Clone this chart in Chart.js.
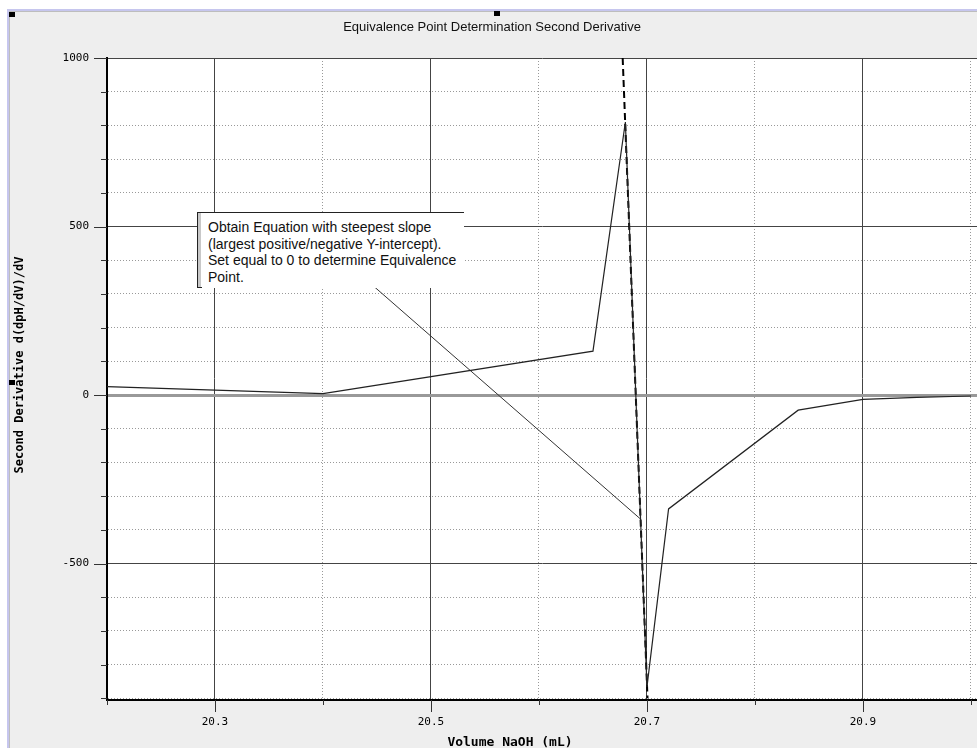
<!DOCTYPE html>
<html>
<head>
<meta charset="utf-8">
<script src="https://cdn.jsdelivr.net/npm/chart.js@4.4.0/dist/chart.umd.min.js"></script>
<style>
  body { margin: 0; background: #fff; }
  #wrap { position: relative; width: 977px; height: 748px; overflow: hidden; }
  #frame {
    position: absolute; left: 7px; top: 9px; right: 0; bottom: 0;
    background: #eeeeee;
    border-left: 2px solid #c6c6ee; border-top: 2px solid #c6c6ee;
    box-shadow: inset 1px 1px 0 #bdbdbd;
  }
  canvas { position: absolute; left: 0; top: 0; }
  .handle { position: absolute; width: 6px; height: 5px; background: #000; }
  #title {
    position: absolute; left: 292px; top: 19px; width: 400px; text-align: center;
    font: 13px "Liberation Sans", Arial, sans-serif; color: #111;
  }
  #xtitle {
    position: absolute; left: 410px; top: 734px; width: 200px; text-align: center;
    font: bold 13px "DejaVu Sans Mono", monospace; color: #000;
  }
  #ytitle {
    position: absolute; left: -130px; top: 357px; width: 300px; height: 16px;
    line-height: 16px; text-align: center; transform: rotate(-90deg);
    font: bold 12px "DejaVu Sans Mono", monospace; color: #000;
  }
  #note {
    position: absolute; left: 197px; top: 212px; width: 256px; height: 69px;
    padding: 6px 0 0 10px; background: #fff;
    border-top: 1px solid #222; border-left: 1px solid #222;
    box-shadow: inset 3px 0 0 #c8c8c8;
    font: 14px/16.7px "Liberation Sans", Arial, sans-serif; color: #111;
  }
  #note::after {
    content: ""; position: absolute; left: -1px; bottom: 0; width: 5px; height: 1px; background: #222;
  }
</style>
</head>
<body>
<div id="wrap">
  <div id="frame"></div>
  <canvas id="chart" width="977" height="748"></canvas>
  <div id="title">Equivalence Point Determination Second Derivative</div>
  <div id="xtitle">Volume NaOH (mL)</div>
  <div id="ytitle">Second Derivative d(dpH/dV)/dV</div>
  <div id="note">Obtain Equation with steepest slope<br>(largest positive/negative Y-intercept).<br>Set equal to 0 to determine Equivalence<br>Point.</div>
  <div class="handle" style="left:9px;top:12px"></div>
  <div class="handle" style="left:494px;top:11px"></div>
  <div class="handle" style="left:9px;top:380px"></div>
</div>
<script>
// second derivative data
const volume = [20.2, 20.4, 20.65, 20.68, 20.7, 20.72, 20.84, 20.9, 20.95, 21.0];
const secondDeriv = [25, 4, 130, 810, -866, -338, -45, -13, -7, -3];

// steepest-slope line (dashed)
const fitVolume = [20.6775, 20.7005];
const fitValue = [1000, -900];

// callout pointer from the note to the curve
const calloutVolume = [20.40, 20.694];
const calloutValue = [454, -368];

// tick positions and the labels shown on them
const xTicks = [20.2, 20.3, 20.4, 20.5, 20.6, 20.7, 20.8, 20.9, 21.0];
const xTickLabels = ['20.3', '20.5', '20.7', '20.9'];
const yTicks = [-900, -800, -700, -600, -500, -400, -300, -200, -100, 0,
                100, 200, 300, 400, 500, 600, 700, 800, 900, 1000];
const yTickLabels = ['1000', '500', '0', '-500'];

const pts = (xs, ys) => xs.map((x, i) => ({ x: x, y: ys[i] }));
const xMajor = v => xTickLabels.includes(v.toFixed(1));
const yMajor = v => yTickLabels.includes(String(v));

const plotBg = {
    id: 'plotBg',
    beforeDraw(chart) {
        const a = chart.chartArea;
        chart.ctx.save();
        chart.ctx.fillStyle = '#fff';
        chart.ctx.fillRect(a.left, a.top, a.right - a.left, a.bottom - a.top);
        chart.ctx.restore();
    }
};

// long ticks on major values, short on minor
const tickMarks = {
    id: 'tickMarks',
    afterDraw(chart) {
        const { ctx, chartArea, scales } = chart;
        ctx.save();
        ctx.strokeStyle = '#333';
        ctx.lineWidth = 1;
        scales.y.ticks.forEach(t => {
            const y = Math.round(scales.y.getPixelForValue(t.value)) + 0.5;
            const len = yMajor(t.value) ? 13 : 6;
            ctx.beginPath();
            ctx.moveTo(chartArea.left - len, y);
            ctx.lineTo(chartArea.left, y);
            ctx.stroke();
        });
        scales.x.ticks.forEach(t => {
            const x = Math.round(scales.x.getPixelForValue(t.value)) + 0.5;
            const len = xMajor(t.value) ? 12 : 5;
            ctx.beginPath();
            ctx.moveTo(x, chartArea.bottom);
            ctx.lineTo(x, chartArea.bottom + len);
            ctx.stroke();
        });
        ctx.restore();
    }
};

new Chart(document.getElementById('chart'), {
    type: 'line',
    data: {
        datasets: [{
            data: pts(volume, secondDeriv),
            borderColor: '#222',
            borderWidth: 1.2,
            pointRadius: 0,
            tension: 0
        }, {
            data: pts(fitVolume, fitValue),
            borderColor: '#000',
            borderWidth: 2,
            borderDash: [7, 4],
            pointRadius: 0
        }, {
            data: pts(calloutVolume, calloutValue),
            borderColor: '#333',
            borderWidth: 1,
            pointRadius: 0
        }]
    },
    options: {
        responsive: false,
        animation: false,
        devicePixelRatio: 1,
        layout: { padding: { left: 8, top: 58, right: 0, bottom: 0 } },
        plugins: {
            legend: { display: false },
            tooltip: { enabled: false }
        },
        scales: {
            x: {
                type: 'linear',
                min: 20.2,
                max: 21.0056,
                afterBuildTicks: s => { s.ticks = xTicks.map(v => ({ value: v })); },
                afterFit: s => { s.height = 48; s.paddingLeft = 0; s.paddingRight = 0; },
                ticks: {
                    autoSkip: false,
                    maxRotation: 0,
                    padding: 16,
                    color: '#000',
                    font: { family: 'DejaVu Sans Mono', size: 11 },
                    callback: v => xMajor(v) ? v.toFixed(1) : ''
                },
                grid: {
                    drawTicks: false,
                    color: c => xMajor(c.tick.value) ? '#444' : '#999',
                    lineWidth: 1
                },
                border: {
                    color: '#000',
                    width: 2,
                    dash: c => (c.tick && !xMajor(c.tick.value)) ? [1, 2] : []
                }
            },
            y: {
                min: -905,
                max: 1000,
                afterBuildTicks: s => { s.ticks = yTicks.map(v => ({ value: v })); },
                afterFit: s => { s.width = 99; },
                ticks: {
                    autoSkip: false,
                    padding: 18,
                    color: '#000',
                    font: { family: 'DejaVu Sans Mono', size: 11 },
                    callback: v => yMajor(v) ? String(v) : ''
                },
                grid: {
                    drawTicks: false,
                    color: c => c.tick.value === 0 ? '#999' : (yMajor(c.tick.value) ? '#444' : '#999'),
                    lineWidth: c => c.tick.value === 0 ? 3 : 1
                },
                border: {
                    color: '#000',
                    width: 2,
                    dash: c => (c.tick && !yMajor(c.tick.value)) ? [1, 2] : []
                }
            }
        }
    },
    plugins: [plotBg, tickMarks]
});
</script>
</body>
</html>
